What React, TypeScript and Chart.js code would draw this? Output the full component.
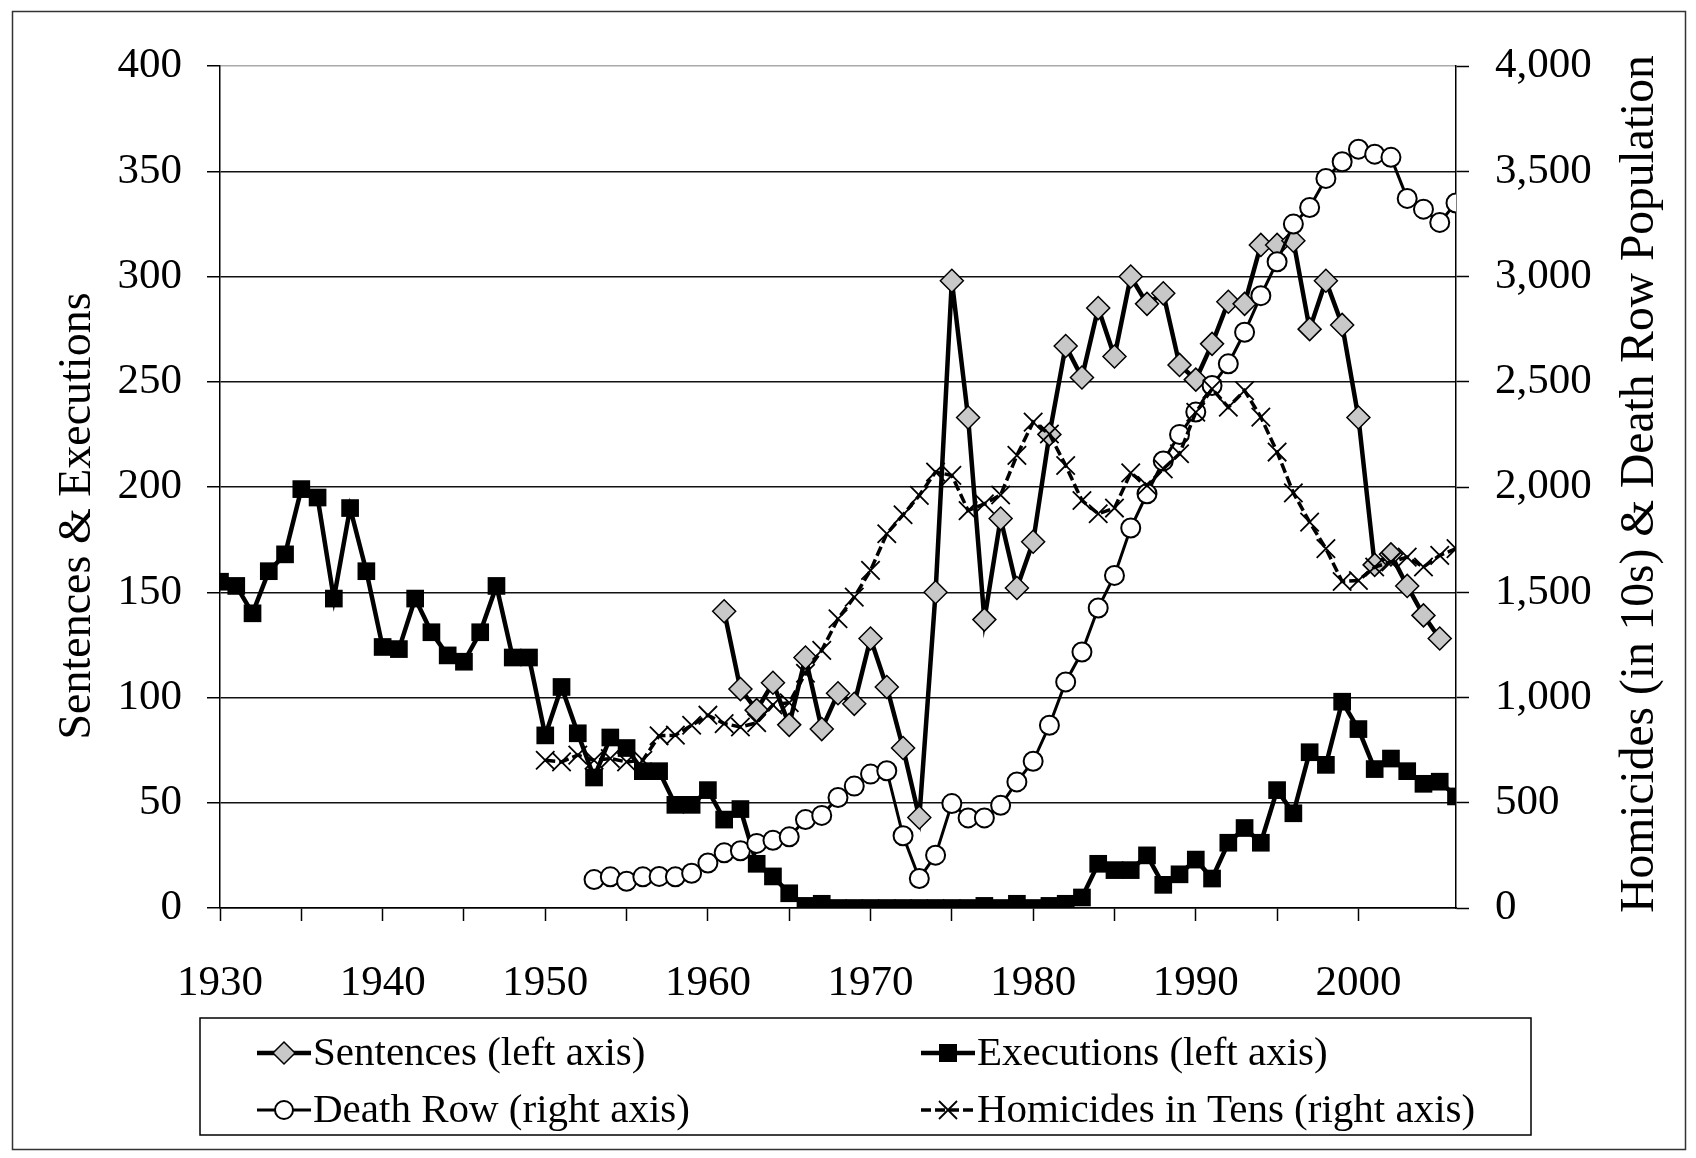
import React, { useEffect, useRef } from "react";
import { Chart, registerables } from "chart.js";

Chart.register(...registerables);

const FONT = '"Liberation Serif", "Times New Roman", serif';

const years = [
  1930, 1931, 1932, 1933, 1934, 1935, 1936, 1937, 1938, 1939,
  1940, 1941, 1942, 1943, 1944, 1945, 1946, 1947, 1948, 1949,
  1950, 1951, 1952, 1953, 1954, 1955, 1956, 1957, 1958, 1959,
  1960, 1961, 1962, 1963, 1964, 1965, 1966, 1967, 1968, 1969,
  1970, 1971, 1972, 1973, 1974, 1975, 1976, 1977, 1978, 1979,
  1980, 1981, 1982, 1983, 1984, 1985, 1986, 1987, 1988, 1989,
  1990, 1991, 1992, 1993, 1994, 1995, 1996, 1997, 1998, 1999,
  2000, 2001, 2002, 2003, 2004, 2005, 2006,
];

// Sentences (left axis), 1961-2005
const sentences = [
  null, null, null, null, null, null, null, null, null, null,
  null, null, null, null, null, null, null, null, null, null,
  null, null, null, null, null, null, null, null, null, null,
  null, 141, 104, 94, 107, 87, 119, 85, 102, 97,
  128, 105, 76, 43, 150, 298, 233, 137, 185, 152,
  174, 225, 267, 252, 285, 262, 300, 287, 292, 258,
  251, 268, 288, 287, 315, 315, 317, 275, 298, 277,
  233, 163, 168, 153, 139, 128, null,
];

// Executions (left axis), 1930-2006
const executions = [
  155, 153, 140, 160, 168, 199, 195, 147, 190, 160,
  124, 123, 147, 131, 120, 117, 131, 153, 119, 119,
  82, 105, 83, 62, 81, 76, 65, 65, 49, 49,
  56, 42, 47, 21, 15, 7, 1, 2, 0, 0,
  0, 0, 0, 0, 0, 0, 0, 1, 0, 2,
  0, 1, 2, 5, 21, 18, 18, 25, 11, 16,
  23, 14, 31, 38, 31, 56, 45, 74, 68, 98,
  85, 66, 71, 65, 59, 60, 53,
];

// Death row population (right axis), 1953-2006
const deathRow = [
  null, null, null, null, null, null, null, null, null, null,
  null, null, null, null, null, null, null, null, null, null,
  null, null, null, 135, 148, 127, 148, 150, 148, 165,
  214, 262, 272, 307, 322, 338, 420, 440, 525, 579,
  636, 652, 343, 140, 251, 496, 428, 428, 488, 599,
  697, 868, 1074, 1216, 1425, 1580, 1805, 1968, 2124, 2250,
  2356, 2482, 2585, 2735, 2909, 3070, 3249, 3328, 3466, 3545,
  3605, 3581, 3566, 3371, 3320, 3257, 3349,
];

// Homicides in tens (right axis), 1950-2006
const homicides = [
  null, null, null, null, null, null, null, null, null, null,
  null, null, null, null, null, null, null, null, null, null,
  702, 694, 726, 702, 710, 694, 702, 818, 821, 868,
  916, 876, 860, 880, 965, 975, 1115, 1224, 1374, 1477,
  1604, 1778, 1868, 1960, 2071, 2055, 1888, 1920, 1962, 2150,
  2308, 2252, 2102, 1936, 1873, 1900, 2067, 2007, 2086, 2158,
  2355, 2466, 2379, 2458, 2332, 2166, 1972, 1833, 1707, 1551,
  1556, 1620, 1644, 1667, 1620, 1675, 1707,
];

const leftTicks = [0, 50, 100, 150, 200, 250, 300, 350, 400];
const rightTicks = [0, 500, 1000, 1500, 2000, 2500, 3000, 3500, 4000];

const seriesNames = [
  "Sentences (left axis)",
  "Executions (left axis)",
  "Death Row (right axis)",
  "Homicides in Tens (right axis)",
];
const leftTitle = "Sentences & Executions";
const rightTitle = "Homicides (in 10s) & Death Row Population";

const toPoints = (arr: (number | null)[]) =>
  years.map((yr, i) => ({ x: yr, y: arr[i] }));

function drawMarker(ctx: CanvasRenderingContext2D, kind: string, x: number, y: number) {
  ctx.save();
  ctx.setLineDash([]);
  ctx.strokeStyle = "#000";
  if (kind === "diamond") {
    ctx.beginPath();
    ctx.moveTo(x, y - 11);
    ctx.lineTo(x + 11, y);
    ctx.lineTo(x, y + 11);
    ctx.lineTo(x - 11, y);
    ctx.closePath();
    ctx.fillStyle = "#c8c8c8";
    ctx.fill();
    ctx.lineWidth = 1.5;
    ctx.stroke();
  } else if (kind === "square") {
    ctx.fillStyle = "#000";
    ctx.fillRect(x - 9, y - 9, 18, 18);
  } else if (kind === "circle") {
    ctx.beginPath();
    ctx.arc(x, y, 9, 0, Math.PI * 2);
    ctx.fillStyle = "#fff";
    ctx.fill();
    ctx.lineWidth = 2;
    ctx.stroke();
  } else {
    ctx.lineWidth = 1.8;
    ctx.beginPath();
    ctx.moveTo(x - 9, y - 9);
    ctx.lineTo(x + 9, y + 9);
    ctx.moveTo(x + 9, y - 9);
    ctx.lineTo(x - 9, y + 9);
    ctx.stroke();
  }
  ctx.restore();
}

const decorPlugin = {
  id: "decor",
  afterDraw(chart: any) {
    const ctx: CanvasRenderingContext2D = chart.ctx;
    ctx.save();
    // outer frame
    ctx.strokeStyle = "#333";
    ctx.lineWidth = 1.5;
    ctx.strokeRect(12.5, 11.5, 1673, 1138);

    // axis titles
    ctx.fillStyle = "#000";
    ctx.textAlign = "center";
    ctx.textBaseline = "alphabetic";
    ctx.font = `46px ${FONT}`;
    ctx.save();
    ctx.translate(90, 516);
    ctx.rotate(-Math.PI / 2);
    ctx.fillText(leftTitle, 0, 0);
    ctx.restore();
    ctx.font = `47.5px ${FONT}`;
    ctx.save();
    ctx.translate(1653, 484);
    ctx.rotate(-Math.PI / 2);
    ctx.fillText(rightTitle, 0, 0);
    ctx.restore();

    // legend box
    ctx.strokeStyle = "#000";
    ctx.lineWidth = 1.5;
    ctx.strokeRect(200, 1018, 1331, 117);

    const items = [
      { name: seriesNames[0], marker: "diamond", lw: 4.5, dash: [] as number[], x: 257, y: 1053 },
      { name: seriesNames[1], marker: "square", lw: 4.5, dash: [] as number[], x: 921, y: 1053 },
      { name: seriesNames[2], marker: "circle", lw: 3, dash: [] as number[], x: 257, y: 1110 },
      { name: seriesNames[3], marker: "cross", lw: 3.5, dash: [10, 4], x: 921, y: 1110 },
    ];
    ctx.font = `41px ${FONT}`;
    ctx.textAlign = "left";
    ctx.textBaseline = "middle";
    for (const it of items) {
      ctx.save();
      ctx.strokeStyle = "#000";
      ctx.lineWidth = it.lw;
      ctx.setLineDash(it.dash);
      ctx.beginPath();
      ctx.moveTo(it.x, it.y);
      ctx.lineTo(it.x + 54, it.y);
      ctx.stroke();
      ctx.restore();
      drawMarker(ctx, it.marker, it.x + 27, it.y);
      ctx.fillStyle = "#000";
      ctx.fillText(it.name, it.x + 56, it.y + 1);
    }
    ctx.restore();
  },
};

export default function App() {
  const ref = useRef<HTMLCanvasElement | null>(null);

  useEffect(() => {
    if (!ref.current) return;
    const tickFont = { family: FONT, size: 43 };
    const chart = new Chart(ref.current, {
      type: "line",
      data: {
        datasets: [
          {
            label: seriesNames[0],
            data: toPoints(sentences),
            yAxisID: "y",
            borderColor: "#000",
            borderWidth: 4.5,
            pointStyle: "rectRot",
            pointRadius: 11.5,
            pointBackgroundColor: "#c8c8c8",
            pointBorderColor: "#000",
            pointBorderWidth: 1.5,
            order: 3,
          },
          {
            label: seriesNames[1],
            data: toPoints(executions),
            yAxisID: "y",
            borderColor: "#000",
            borderWidth: 4.5,
            pointStyle: "rect",
            pointRadius: 12.5,
            pointBackgroundColor: "#000",
            pointBorderColor: "#000",
            pointBorderWidth: 0,
            order: 2,
          },
          {
            label: seriesNames[2],
            data: toPoints(deathRow),
            yAxisID: "y1",
            borderColor: "#000",
            borderWidth: 3,
            pointStyle: "circle",
            pointRadius: 9.5,
            pointBackgroundColor: "#fff",
            pointBorderColor: "#000",
            pointBorderWidth: 2,
            order: 1,
          },
          {
            label: seriesNames[3],
            data: toPoints(homicides),
            yAxisID: "y1",
            borderColor: "#000",
            borderWidth: 3.5,
            borderDash: [10, 4],
            pointStyle: "crossRot",
            pointRadius: 13,
            pointBorderColor: "#000",
            pointBorderWidth: 1.8,
            order: 0,
          },
        ],
      },
      options: {
        responsive: false,
        devicePixelRatio: 1,
        animation: false,
        events: [],
        layout: { padding: { top: 66, left: 0, right: 0, bottom: 0 } },
        plugins: {
          legend: { display: false },
          tooltip: { enabled: false },
        },
        scales: {
          x: {
            type: "linear",
            position: "bottom",
            min: 1930,
            max: 2006,
            afterBuildTicks: (s: any) => {
              s.ticks = s.ticks.filter((t: any) => t.value % 5 === 0);
            },
            afterFit: (s: any) => {
              s.height = 250;
            },
            ticks: {
              stepSize: 5,
              autoSkip: false,
              maxRotation: 0,
              padding: 37,
              color: "#000",
              font: tickFont,
              callback: (v: any) => (v % 10 === 0 ? String(v) : ""),
            },
            grid: {
              drawOnChartArea: false,
              drawTicks: true,
              tickLength: 13,
              tickColor: "#000",
              tickWidth: 1.5,
            },
            border: { display: true, color: "#000", width: 1.5 },
          },
          y: {
            type: "linear",
            position: "left",
            min: 0,
            max: 400,
            afterBuildTicks: (s: any) => {
              s.ticks = leftTicks.map((v) => ({ value: v }));
            },
            afterFit: (s: any) => {
              s.width = 220;
            },
            ticks: {
              stepSize: 50,
              padding: 25,
              color: "#000",
              font: tickFont,
            },
            grid: {
              color: (c: any) => (c.tick && c.tick.value === 400 ? "#aaaaaa" : "#111"),
              lineWidth: 1.5,
              drawTicks: true,
              tickLength: 13,
              tickColor: "#000",
              tickWidth: 1.5,
            },
            border: { display: true, color: "#000", width: 1.5 },
          },
          y1: {
            type: "linear",
            position: "right",
            min: 0,
            max: 4000,
            afterBuildTicks: (s: any) => {
              s.ticks = rightTicks.map((v) => ({ value: v }));
            },
            afterFit: (s: any) => {
              s.width = 240;
            },
            ticks: {
              stepSize: 500,
              padding: 26,
              color: "#000",
              font: tickFont,
              callback: (v: any) => Number(v).toLocaleString("en-US"),
            },
            grid: {
              drawOnChartArea: false,
              drawTicks: true,
              tickLength: 13,
              tickColor: "#000",
              tickWidth: 1.5,
            },
            border: { display: true, color: "#000", width: 1.5 },
          },
        },
      },
      plugins: [decorPlugin],
    } as any);
    return () => chart.destroy();
  }, []);

  return (
    <div
      style={{
        position: "absolute",
        left: 0,
        top: 0,
        width: 1696,
        height: 1158,
        background: "#fff",
      }}
    >
      <canvas ref={ref} width={1696} height={1158} style={{ display: "block" }} />
    </div>
  );
}
